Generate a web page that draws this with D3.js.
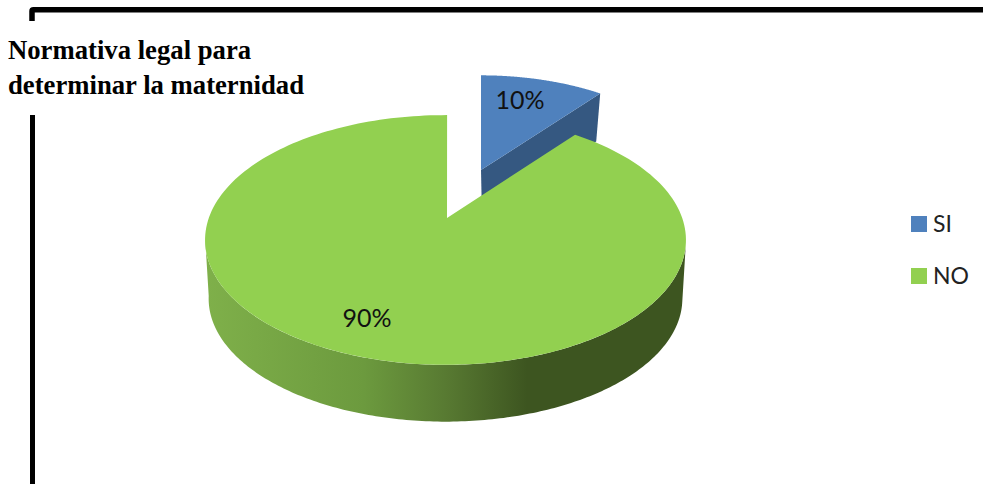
<!DOCTYPE html>
<html><head><meta charset="utf-8">
<script src="https://cdnjs.cloudflare.com/ajax/libs/d3/7.8.5/d3.min.js"></script>
<style>html,body{margin:0;padding:0;background:#fff}svg{display:block}</style>
</head><body><svg id="c" width="983" height="484"></svg>
<script>
const categories = ["SI", "NO"];
const seriesValues = [10, 90];
const titleLines = ["Normativa legal para", "determinar la maternidad"];
const colors = ["#4f81bd", "#92d050"];

const svg = d3.select("#c");
const TAU = 2 * Math.PI;
const pie = d3.pie().sort(null);
const slices = pie(seriesValues);

// Chart perspective slightly widens the small slice.
const warp = d3.scaleLinear()
  .domain([0, slices[0].endAngle, TAU])
  .range([0, slices[0].endAngle * 1.07, TAU + 0.008]);

const K = 0.176, A = 121, B = 236.7;
function proj(cx, cy, s, t) {
  const th = warp(t), u = Math.sin(th), v = Math.cos(th), w = 1 + K * v;
  return [cx + s * B * u / w, cy - s * A * v / w];
}
const line = d3.line();
function rim(cx, cy, s, a0, a1) {
  return d3.range(0, 201).map(i => proj(cx, cy, s, a0 + (a1 - a0) * i / 200));
}

// defs
const defs = svg.append("defs");
const g = defs.append("linearGradient").attr("id", "wall").attr("gradientUnits", "userSpaceOnUse")
  .attr("x1", 205).attr("x2", 686).attr("y1", 0).attr("y2", 0);
[[0, "#7fb04a"], [0.33, "#6c9a3e"], [0.5, "#587a32"], [0.67, "#3d5520"], [1, "#3d5520"]]
  .forEach(d => g.append("stop").attr("offset", d[0]).attr("stop-color", d[1]));

// frame
svg.append("path").attr("d", "M32 21V11Q32 9.8 33.5 9.8H983").attr("fill", "none").attr("stroke", "#000").attr("stroke-width", 5.5);
svg.append("path").attr("d", "M32.5 115V484").attr("fill", "none").attr("stroke", "#000").attr("stroke-width", 5);

// title
titleLines.forEach((t, i) => svg.append("text").attr("x", 8).attr("y", 59 + i * 35)
  .attr("font-family", "'Liberation Serif'").attr("font-weight", "bold").attr("font-size", 26.7).attr("fill", "#000").text(t));

// blue slice
const blue = { x: 481, y: 170, s: 0.92, d: 48 };
const bs = slices[0];
const bApex = [blue.x, blue.y];
const bEnd = proj(blue.x, blue.y, blue.s, bs.endAngle);
svg.append("path").attr("fill", "#355881")
  .attr("d", line([bApex, bEnd, [bEnd[0] - 4, bEnd[1] + blue.d], [bApex[0] + 1, bApex[1] + blue.d]]) + "Z");
svg.append("path").attr("fill", colors[0])
  .attr("d", line([bApex, ...rim(blue.x, blue.y, blue.s, bs.startAngle, bs.endAngle)]) + "Z");

// green slice
const green = { x: 445.5, y: 218, s: 1, d: 59, apexX: 447 };
const gs = slices[1];
const a0 = TAU * 100 / 360, a1 = TAU * 260 / 360;
const front = rim(green.x, green.y, 1, a0, a1);
const backLow = rim(green.x, green.y + green.d, 0.985, a1, a0);
svg.append("path").attr("fill", "url(#wall)").attr("d", line([...front, ...backLow]) + "Z");
svg.append("path").attr("fill", colors[1])
  .attr("d", line([[green.apexX, green.y], ...rim(green.x, green.y, 1, gs.startAngle, gs.endAngle)]) + "Z");

// value labels
const labelFont = "Lato";
svg.append("text").attr("x", 520).attr("y", 109).attr("text-anchor", "middle").attr("font-family", labelFont).attr("font-size", 25).attr("fill", "#111")
  .text(seriesValues[0] + "%");
svg.append("text").attr("x", 367).attr("y", 327).attr("text-anchor", "middle").attr("font-family", labelFont).attr("font-size", 25).attr("fill", "#111")
  .text(seriesValues[1] + "%");

// legend
categories.forEach((c, i) => {
  const y = 216 + i * 52;
  svg.append("rect").attr("x", 911).attr("y", y).attr("width", 16).attr("height", 16).attr("fill", colors[i]);
  svg.append("text").attr("x", 933).attr("y", y + 16).attr("font-family", labelFont).attr("font-size", 23).attr("fill", "#222").text(c);
});
</script></body></html>
